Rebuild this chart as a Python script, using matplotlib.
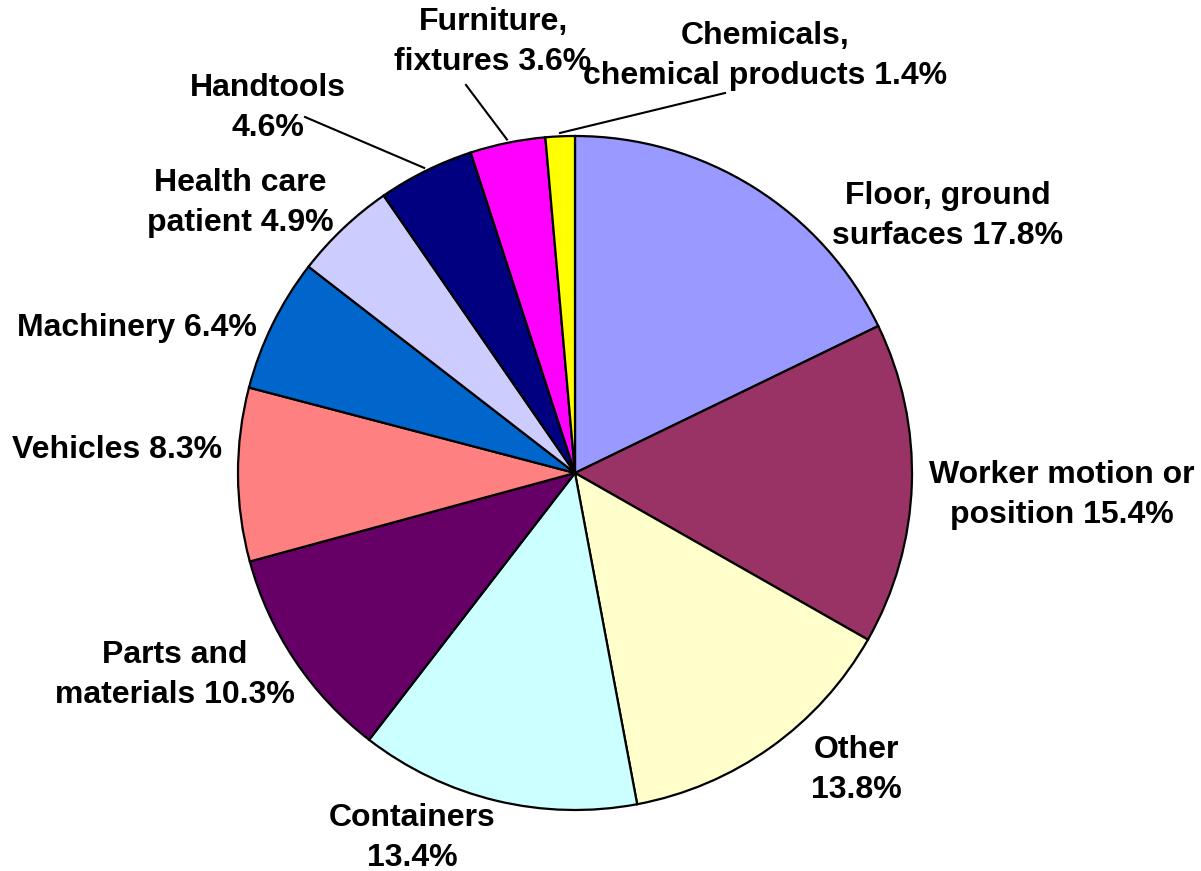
import numpy as np
import matplotlib
matplotlib.use("Agg")
import matplotlib.pyplot as plt

# slice data, clockwise from 12 o'clock
categories = ["Floor, ground\nsurfaces", "Worker motion or\nposition", "Other\n", "Containers\n",
              "Parts and\nmaterials", "Vehicles", "Machinery", "Health care\npatient",
              "Handtools\n", "Furniture,\nfixtures", "Chemicals,\nchemical products"]
shares = [17.8, 15.4, 13.8, 13.4, 10.3, 8.3, 6.4, 4.9, 4.6, 3.6, 1.4]
colors = ["#9999FF", "#993366", "#FFFFCC", "#CCFFFF", "#660066", "#FF8080",
          "#0066CC", "#CCCCFF", "#000080", "#FF00FF", "#FFFF00"]

# label centres in pixels, and where leader lines start (None = no leader)
label_px = [(948, 216), (1062, 495), (856, 770), (412, 838), (175, 675), (117, 450),
            (137, 328), (240, 203), (268, 108), (493, 42), (765, 56)]
leader_px = [None, None, None, None, None, None, None, None, (305, 117), (466, 85), (725, 93)]

W, H = 1201, 871
cx, cy, R = 575, 473, 337

plt.rcParams['font.family'] = ['Liberation Sans', 'DejaVu Sans']
fig = plt.figure(figsize=(W / 100, H / 100), dpi=100)
ax = fig.add_axes([0, 0, 1, 1])

def to_data(p):
    return ((p[0] - cx) / R, (cy - p[1]) / R)

wedges, _ = ax.pie(shares, colors=colors, startangle=90, counterclock=False,
                   radius=1, center=(0, 0), frame=True,
                   wedgeprops=dict(edgecolor='black', linewidth=1.6))
ax.set_xlim(-cx / R, (W - cx) / R)
ax.set_ylim(-(H - cy) / R, cy / R)
ax.set_aspect('equal')
ax.axis('off')

for i, w in enumerate(wedges):
    name = categories[i]
    if name.endswith("\n"):
        txt = name + f"{shares[i]}%"
    else:
        txt = name + f" {shares[i]}%"
    x, y = to_data(label_px[i])
    ax.text(x, y, txt, ha='center', va='center', fontsize=23, fontweight='bold',
            multialignment='center', linespacing=1.4)
    if leader_px[i] is not None:
        mid = np.deg2rad((w.theta1 + w.theta2) / 2)
        lx, ly = to_data(leader_px[i])
        ax.plot([lx, np.cos(mid) * 1.01], [ly, np.sin(mid) * 1.01], color='black', lw=1.5)

fig.savefig("out.png", dpi=100)
